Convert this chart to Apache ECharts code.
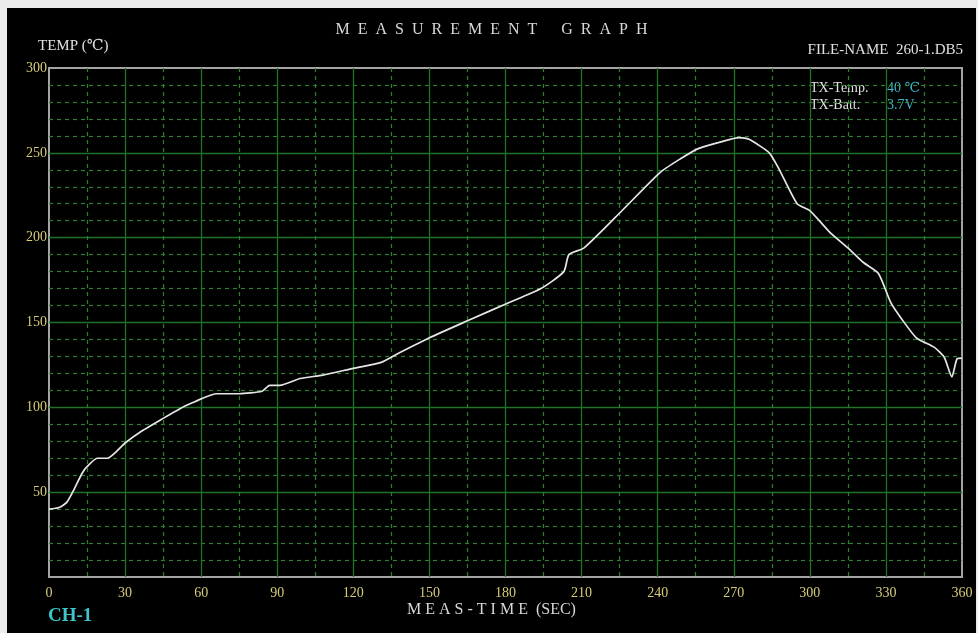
<!DOCTYPE html>
<html>
<head>
<meta charset="utf-8">
<script src="https://cdn.jsdelivr.net/npm/echarts@6/dist/echarts.min.js"></script>
<style>
  html, body { margin: 0; padding: 0; background: #ececec; }
  #main { position: absolute; left: 7px; top: 8px; width: 969px; height: 625px; background: #000; }
</style>
</head>
<body>
<div id="main"></div>
<script>
// 测量时间 (秒) 与温度 (℃)
var times = [0, 4, 7, 10, 13, 15, 19, 23, 30, 36, 45, 52, 57, 60, 66, 75, 84, 87, 91, 99,
  108, 120, 131, 138, 150, 165, 181, 194, 203, 205, 211, 226, 241, 249, 256, 265, 272, 276,
  284, 288, 295, 300, 308, 315, 321, 327, 332, 336, 342, 349, 353, 356, 358, 360];
var temps = [40, 41, 44, 52, 61, 65, 70, 70, 79, 85.5, 93.5, 99.5, 103, 105, 108, 108, 109.5, 113, 113, 117,
  119, 123, 126.5, 132, 141, 151, 161.5, 170, 180, 190, 194, 216, 238.5, 246.5, 252.5, 256.5, 259, 258,
  250, 240, 220, 216, 203, 194, 185.5, 179, 161.5, 152.5, 141, 135.5, 129.5, 118, 128.5, 129];

var xTicks = [0, 30, 60, 90, 120, 150, 180, 210, 240, 270, 300, 330, 360];
var yTicks = [50, 100, 150, 200, 250, 300];

var points = [];
for (var i = 0; i < times.length; i++) {
    points.push([times[i], temps[i]]);
}

var chart = echarts.init(document.getElementById('main'));
var serif = '"Liberation Serif", "DejaVu Serif", serif';
var labelColor = '#d6cc78';
var cyan = '#3db4c6';

var option = {
    backgroundColor: '#000',
    animation: false,
    grid: {
        left: 42,
        top: 60,
        width: 913,
        height: 509,
        show: true,
        borderColor: '#a4a4a4',
        borderWidth: 2
    },
    xAxis: {
        type: 'value',
        min: 0,
        max: 360,
        interval: 30,
        axisLine: { show: false },
        axisTick: { show: false },
        axisLabel: {
            color: labelColor,
            fontFamily: serif,
            fontSize: 14,
            margin: 9,
            formatter: function (v) { return xTicks.indexOf(v) >= 0 ? v : ''; }
        },
        splitLine: { show: true, showMinLine: false, showMaxLine: false,
                     lineStyle: { color: '#1e7326', width: 1.3 } },
        minorTick: { show: false, splitNumber: 2 },
        minorSplitLine: { show: true, lineStyle: { color: '#2e7f30', type: [4, 4], width: 1.2 } }
    },
    yAxis: {
        type: 'value',
        min: 0,
        max: 300,
        interval: 50,
        axisLine: { show: false },
        axisTick: { show: false },
        axisLabel: {
            color: labelColor,
            fontFamily: serif,
            fontSize: 14,
            margin: 2,
            formatter: function (v) { return yTicks.indexOf(v) >= 0 ? v : ''; }
        },
        splitLine: { show: true, showMinLine: false, showMaxLine: false,
                     lineStyle: { color: '#1e7326', width: 1.3 } },
        minorTick: { show: false, splitNumber: 5 },
        minorSplitLine: { show: true, lineStyle: { color: '#2e7f30', type: [4, 4], width: 1.2 } }
    },
    graphic: [
        { type: 'text', left: 'center', top: 14,
          style: { text: 'M  E  A  S  U  R  E  M  E  N  T      G  R  A  P  H', fill: '#d8d8d8', font: '16px ' + serif } },
        { type: 'text', left: 31, top: 31,
          style: { text: 'TEMP (℃)', fill: '#e0e0e0', font: '15px ' + serif } },
        { type: 'text', right: 13, top: 35,
          style: { text: 'FILE-NAME  260-1.DB5', fill: '#e0e0e0', font: '15px ' + serif } },
        { type: 'text', left: 803, top: 73,
          style: { text: 'TX-Temp.', fill: '#e0e0e0', font: '14px ' + serif } },
        { type: 'text', left: 880, top: 73,
          style: { text: '40 ℃', fill: cyan, font: '14px ' + serif } },
        { type: 'text', left: 803, top: 90,
          style: { text: 'TX-Batt.', fill: '#e0e0e0', font: '14px ' + serif } },
        { type: 'text', left: 880, top: 90,
          style: { text: '3.7V', fill: cyan, font: '14px ' + serif } },
        { type: 'text', left: 41, top: 599,
          style: { text: 'CH-1', fill: '#3fc4c8', font: 'bold 19px ' + serif } },
        { type: 'text', left: 'center', top: 594,
          style: { text: 'M E A S - T I M E  (SEC)', fill: '#d8d8d8', font: '16px ' + serif } }
    ],
    series: [
        {
            type: 'line',
            data: points,
            showSymbol: false,
            smooth: 0.2,
            lineStyle: { color: '#e6e6e6', width: 1.7 }
        }
    ]
};

chart.setOption(option);
</script>
</body>
</html>
